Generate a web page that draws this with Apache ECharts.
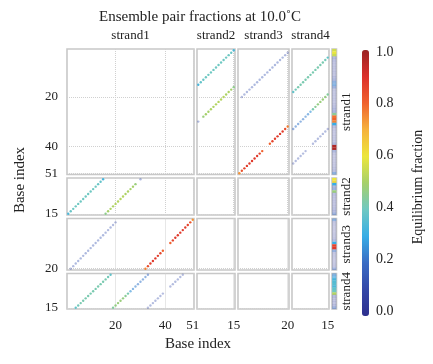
<!DOCTYPE html>
<html><head><meta charset="utf-8">
<script src="https://cdn.jsdelivr.net/npm/echarts@6/dist/echarts.min.js"></script>
<style>html,body{margin:0;padding:0;background:#fff}#c{width:433px;height:364px}</style>
</head><body><div id="c"></div>
<script>
// ---------------- data ----------------
const strandNames = ['strand1', 'strand2', 'strand3', 'strand4'];
const strandLengths = [51, 15, 20, 15];
const tickValues = [[20, 40, 51], [15], [20], [15]];
const colorbarTicks = [0, 0.2, 0.4, 0.6, 0.8, 1.0];
const titleText = 'Ensemble pair fractions at 10.0˚C';
const axisTitle = 'Base index';
const colorbarTitle = 'Equilibrium fraction';

// pair fractions: [base in strand1, base in other strand, fraction]
const pairs12 = [
  [1,15,.34],[2,14,.39],[3,13,.40],[4,12,.40],[5,11,.40],[6,10,.40],[7,9,.40],[8,8,.40],
  [9,7,.40],[10,6,.40],[11,5,.40],[12,4,.40],[13,3,.39],[14,2,.38],[15,1,.33],
  [16,15,.46],[17,14,.50],[18,13,.51],[19,12,.51],[20,11,.52],[21,10,.52],[22,9,.52],
  [23,8,.52],[24,7,.51],[25,6,.51],[26,5,.50],[27,4,.50],[28,3,.48],[30,1,.12]
];
const pairs13 = [
  [2,20,.10],[3,19,.12],[4,18,.13],[5,17,.13],[6,16,.13],[7,15,.13],[8,14,.13],[9,13,.13],
  [10,12,.13],[11,11,.13],[12,10,.13],[13,9,.13],[14,8,.13],[15,7,.13],[16,6,.12],[17,5,.12],
  [18,4,.12],[19,3,.11],[20,2,.10],
  [32,20,.76],[33,19,.84],[34,18,.87],[35,17,.88],[36,16,.88],[37,15,.87],[38,14,.86],[39,13,.80],
  [42,10,.80],[43,9,.86],[44,8,.88],[45,7,.88],[46,6,.88],[47,5,.88],[48,4,.87],[49,3,.86],
  [50,2,.83],[51,1,.74]
];
const pairs14 = [
  [4,15,.38],[5,14,.41],[6,13,.42],[7,12,.42],[8,11,.42],[9,10,.42],[10,9,.42],[11,8,.42],
  [12,7,.42],[13,6,.42],[14,5,.42],[15,4,.42],[16,3,.42],[17,2,.41],[18,1,.38],
  [19,15,.44],[20,14,.47],[21,13,.48],[22,12,.48],[23,11,.47],[24,10,.45],[25,9,.42],
  [26,8,.26],[27,7,.24],[28,6,.23],[29,5,.22],[30,4,.22],[31,3,.22],[32,2,.22],[33,1,.20],
  [33,15,.09],[34,14,.11],[35,13,.11],[36,12,.11],[37,11,.11],[38,10,.11],[39,9,.10],
  [42,6,.10],[43,5,.11],[44,4,.11],[45,3,.11],[46,2,.11],[47,1,.09]
];
// unpaired fraction of each base
const unpaired1 = [
  .56,.60,.55,
  .10,.08,.06,.06,.06,.06,.06,.06,.08,.12,
  .22,.24,.18,
  .05,.05,.05,.05,.05,.05,.06,.08,.10,.14,
  .45,
  .78,.80,.76,
  .30,
  .08,.05,.04,.04,.04,.05,.06,.12,
  .97,.97,
  .12,.05,.04,.04,.04,.04,.05,.06,.08,
  .22
];
const unpaired2 = [.60,.63,.30,.12,.18,.48,.08,.06,.06,.06,.06,.06,.08,.10,.18];
const unpaired3 = [.22,.06,.05,.04,.04,.04,.05,.06,.10,.30,.86,.88,.20,.06,.05,.04,.04,.05,.06,.16];
const unpaired4 = [.24,.28,.33,.35,.36,.34,.38,.40,.52,.10,.06,.06,.06,.08,.18];

// ---------------- layout / style ----------------
const FONT = 'Liberation Serif';
const TXT = '#222';
const colLeft = [67, 197, 238, 292, 332];
const colWidth = [127, 38, 51, 37, 4.5];
const rowTop = [49, 178, 218.5, 273.5];
const rowHeight = [125.5, 37, 51.5, 35.5];
const cmap = ['#2e2f8e','#3448a8','#3a6cc4','#37ade6','#6fc8c2','#a6d06a','#ece63c','#f6b23c','#f0622e','#dc302c','#9a2424'];
// faint marks for small fractions (style only)
const alphaFor = v => v < 0.3 ? 0.2 + 1.6 * v : 1;

const grids = [], xAxes = [], yAxes = [], series = [];
const unpaired = [unpaired1, unpaired2, unpaired3, unpaired4];
const gridIdx = (r, c) => r * 5 + c;

for (let r = 0; r < 4; r++) {
  for (let c = 0; c < 5; c++) {
    grids.push({left: colLeft[c], top: rowTop[r], width: colWidth[c], height: rowHeight[r],
      show: true, borderColor: '#c8c8c8', borderWidth: 1.6, backgroundColor: '#fff'});
    const gi = grids.length - 1;
    if (c < 4) {
      xAxes.push({type: 'value', gridIndex: gi, min: 0.5, max: strandLengths[c] + 0.5,
        position: r === 0 ? 'top' : 'bottom',
        name: r === 0 ? strandNames[c] : '', nameLocation: 'middle', nameGap: 7,
        nameTextStyle: {fontFamily: FONT, fontSize: 13, color: TXT},
        axisLine: {show: false}, axisTick: {show: false, customValues: tickValues[c]},
        axisLabel: {show: r === 3, customValues: tickValues[c], fontFamily: FONT, fontSize: 13, color: TXT, margin: 10},
        splitLine: {show: true, lineStyle: {color: '#d0d0d0', type: 'dotted', width: 1}}});
      yAxes.push({type: 'value', gridIndex: gi, inverse: true, min: 0.5, max: strandLengths[r] + 0.5,
        axisLine: {show: false}, axisTick: {show: false, customValues: tickValues[r]},
        axisLabel: {show: c === 0, customValues: tickValues[r], fontFamily: FONT, fontSize: 13, color: TXT, margin: 9},
        splitLine: {show: true, lineStyle: {color: '#d0d0d0', type: 'dotted', width: 1}}});
    } else {
      xAxes.push({type: 'value', gridIndex: gi, min: 0, max: 1, show: false});
      yAxes.push({type: 'value', gridIndex: gi, inverse: true, min: 0.5, max: strandLengths[r] + 0.5,
        position: 'right', name: strandNames[r], nameLocation: 'middle', nameGap: 4, nameRotate: 90,
        nameTextStyle: {fontFamily: FONT, fontSize: 13, color: TXT},
        axisLine: {show: false}, axisTick: {show: false}, axisLabel: {show: false}, splitLine: {show: false}});
    }
  }
}
// colorbar label axis
grids.push({left: 362, top: 52, width: 7, height: 259, show: false});
xAxes.push({type: 'value', gridIndex: 20, show: false, min: 0, max: 1});
yAxes.push({type: 'value', gridIndex: 20, min: 0, max: 1, interval: 0.2, position: 'right',
  axisLine: {show: false}, axisTick: {show: false}, splitLine: {show: false},
  axisLabel: {customValues: colorbarTicks, formatter: v => v.toFixed(1), fontFamily: FONT, fontSize: 14, color: TXT, margin: 7}});

function item(x, y, v) {
  return {value: [x, y, v], itemStyle: {opacity: alphaFor(v)}};
}
function pairSeries(gi, data) {
  series.push({type: 'scatter', xAxisIndex: gi, yAxisIndex: gi, symbol: 'circle', symbolSize: 2.4,
    silent: true, animation: false, data: data});
}
const pairSets = [pairs12, pairs13, pairs14];
pairSets.forEach((pairs, k) => {
  const s = k + 1;
  pairSeries(gridIdx(0, s), pairs.map(p => item(p[1], p[0], p[2])));
  pairSeries(gridIdx(s, 0), pairs.map(p => item(p[0], p[1], p[2])));
});
unpaired.forEach((arr, r) => {
  series.push({type: 'scatter', xAxisIndex: gridIdx(r, 4), yAxisIndex: gridIdx(r, 4), symbol: 'rect',
    symbolSize: [4.2, 2.6], silent: true, animation: false,
    data: arr.map((u, i) => item(0.5, i + 1, u))});
});

const chart = echarts.init(document.getElementById('c'), null, {renderer: 'canvas'});
chart.setOption({
  animation: false,
  backgroundColor: '#fff',
  grid: grids, xAxis: xAxes, yAxis: yAxes, series: series,
  visualMap: [
    {type: 'continuous', min: 0, max: 1, dimension: 2, calculable: false, hoverLink: false,
     left: 362, top: 50, itemWidth: 7, itemHeight: 266, padding: 0, text: null, showLabel: false,
     inRange: {color: cmap}}
  ],
  graphic: [
    {type: 'text', x: 200, y: 17, style: {text: titleText, font: '15px "Liberation Serif"', fill: TXT, align: 'center', verticalAlign: 'middle'}},
    {type: 'text', x: 198, y: 344, style: {text: axisTitle, font: '15px "Liberation Serif"', fill: TXT, align: 'center', verticalAlign: 'middle'}},
    {type: 'text', x: 20, y: 180, rotation: Math.PI / 2, style: {text: axisTitle, font: '15px "Liberation Serif"', fill: TXT, align: 'center', verticalAlign: 'middle'}},
    {type: 'text', x: 418, y: 187, rotation: Math.PI / 2, style: {text: colorbarTitle, font: '14px "Liberation Serif"', fill: TXT, align: 'center', verticalAlign: 'middle'}}
  ]
});
</script></body></html>
